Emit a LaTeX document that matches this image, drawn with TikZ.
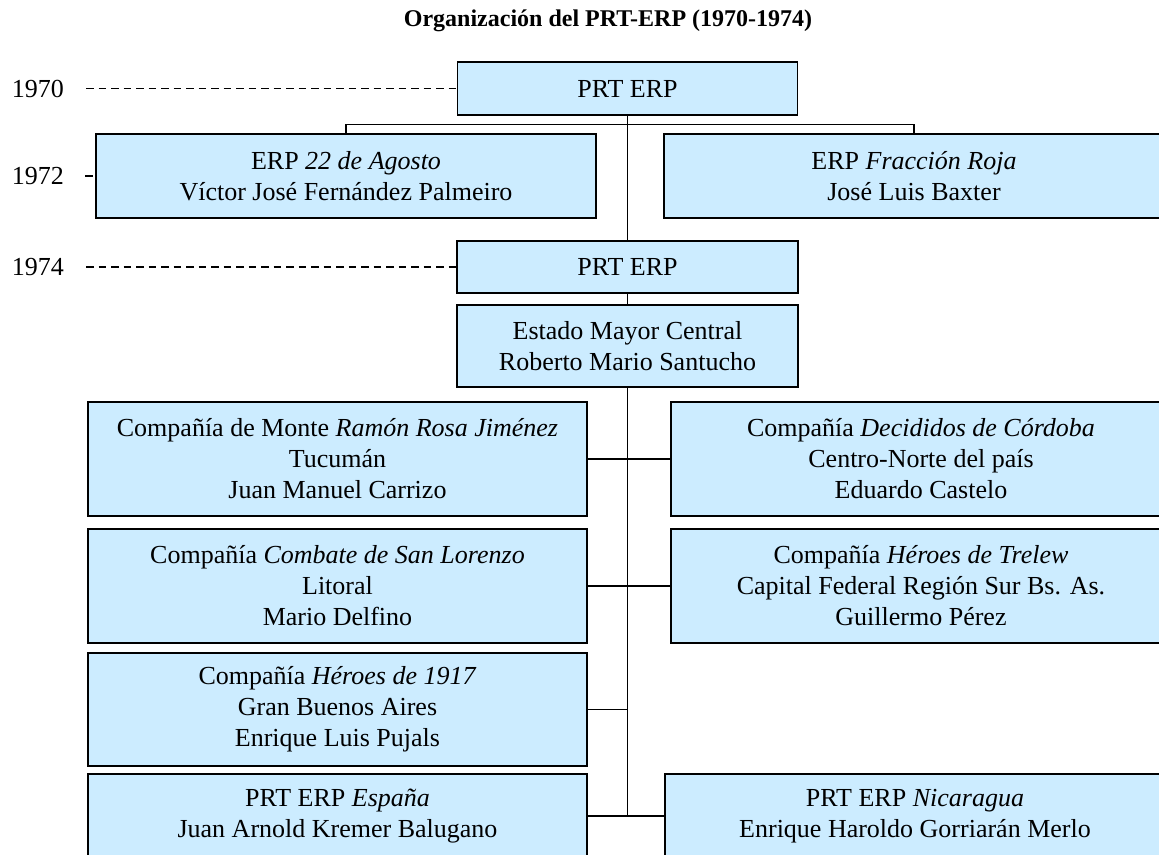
\documentclass[tikz,border=0pt]{standalone}
\usepackage{fontspec}
\setmainfont{Liberation Serif}
\definecolor{boxblue}{RGB}{204,236,255}
\begin{document}
\begin{tikzpicture}[x=1pt,y=-1pt,
  box/.style={draw=black, line width=1.5pt, fill=boxblue, inner sep=0pt, align=center,
              font=\fontsize{26}{31}\selectfont},
  conn/.style={line width=1.4pt},
  dashln/.style={line width=1.4pt, dash pattern=on 7.5pt off 5pt},
  year/.style={font=\fontsize{26}{31}\selectfont, inner sep=0pt},
  ttl/.style={font=\fontsize{24}{28}\selectfont\bfseries, inner sep=0pt}]
\useasboundingbox (0,0) rectangle (1159,854);
\clip (0,0) rectangle (1159,854);

\node[ttl] (title) at (608,21) {Organización del PRT-ERP (1970-1974)};

\node[year] (y70) at (38,88.5) {1970};
\node[year] (y72) at (38,176) {1972};
\node[year] (y74) at (38,267) {1974};

\node[box, minimum width=340pt, minimum height=53pt] (top) at (627.5,88.5) {PRT ERP};
\node[box, minimum width=500pt, minimum height=84pt] (erp22) at (346,176)
  {ERP \textit{22 de Agosto}\\Víctor José Fernández Palmeiro};
\node[box, minimum width=500pt, minimum height=84pt] (roja) at (914,176)
  {ERP \textit{Fracción Roja}\\José Luis Baxter};
\node[box, minimum width=341pt, minimum height=52pt] (prt74) at (627.5,267) {PRT ERP};
\node[box, minimum width=341pt, minimum height=82pt] (emc) at (627.5,346)
  {Estado Mayor Central\\Roberto Mario Santucho};

\node[box, minimum width=499pt, minimum height=114pt] (r1l) at (337.5,459)
  {Compañía de Monte \textit{Ramón Rosa Jiménez}\\Tucumán\\Juan Manuel Carrizo};
\node[box, minimum width=500pt, minimum height=114pt] (r1r) at (921,459)
  {Compañía \textit{Decididos de Córdoba}\\Centro-Norte del país\\Eduardo Castelo};
\node[box, minimum width=499pt, minimum height=114pt] (r2l) at (337.5,586)
  {Compañía \textit{Combate de San Lorenzo}\\Litoral\\Mario Delfino};
\node[box, minimum width=500pt, minimum height=114pt] (r2r) at (921,586)
  {Compañía \textit{Héroes de Trelew}\\Capital Federal Región Sur Bs. As.\\Guillermo Pérez};
\node[box, minimum width=499pt, minimum height=113pt] (r3l) at (337.5,709.5)
  {Compañía \textit{Héroes de 1917}\\Gran Buenos Aires\\Enrique Luis Pujals};
\node[box, minimum width=499pt, minimum height=84pt] (r4l) at (337.5,816)
  {PRT ERP \textit{España}\\Juan Arnold Kremer Balugano};
\node[box, minimum width=500pt, minimum height=84pt] (r4r) at (915,816)
  {PRT ERP \textit{Nicaragua}\\Enrique Haroldo Gorriarán Merlo};

% connectors
\draw[conn] (top.south) -- (prt74.north);
\draw[conn] (erp22.north) -- ++(0,-9) -| (roja.north);
\draw[conn] (prt74.south) -- (emc.north);
\draw[conn] (emc.south) -- (emc.south |- r4l.east);
\draw[conn] (r1l.east) -- (r1r.west);
\draw[conn] (r2l.east) -- (r2r.west);
\draw[conn] (r3l.east) -- (emc.south |- r3l.east);
\draw[conn] (r4l.east) -- (r4r.west);

% year lines
\coordinate (d70) at (86,88.5);
\coordinate (d72) at (85,176);
\coordinate (d74) at (86,267);
\draw[dashln] (d70) -- (top.west);
\draw[dashln] (d72) -- (erp22.west);
\draw[dashln] (d74) -- (prt74.west);
\end{tikzpicture}
\end{document}
